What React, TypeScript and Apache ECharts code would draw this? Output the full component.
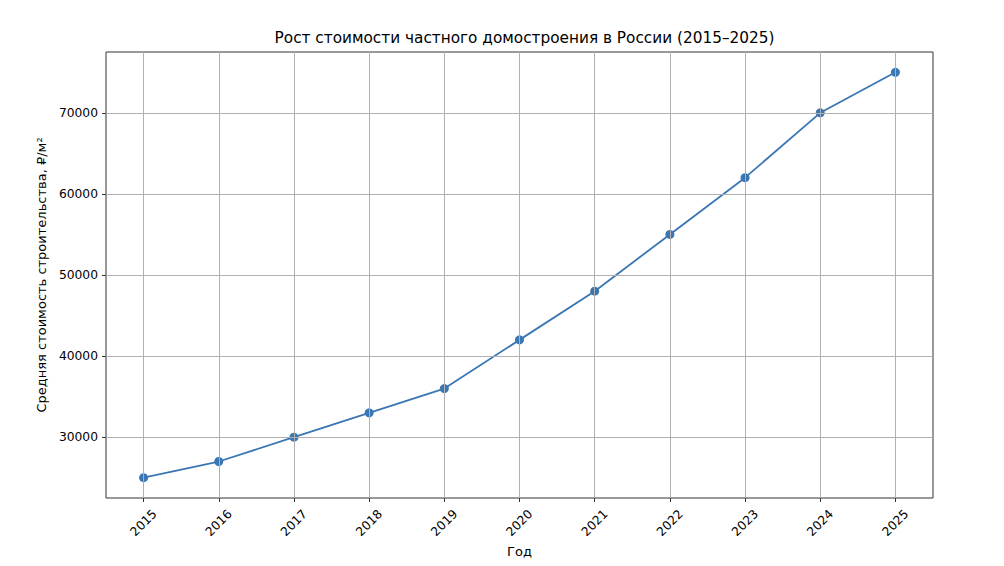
import React, { useEffect, useRef } from "react";
import * as echarts from "echarts";

const years = [2015, 2016, 2017, 2018, 2019, 2020, 2021, 2022, 2023, 2024, 2025];
const costs = [25000, 27000, 30000, 33000, 36000, 42000, 48000, 55000, 62000, 70000, 75000];
const yTicks = [30000, 40000, 50000, 60000, 70000];

const FONT = "DejaVu Sans";
const LINE_COLOR = "#3a76b3";

export default function App() {
  const ref = useRef<HTMLDivElement>(null);
  useEffect(() => {
    if (!ref.current) return;
    const chart = echarts.init(ref.current, undefined, { renderer: "svg" });
    const gridLines = [
      ...years.map((y) => ({ xAxis: y })),
      ...yTicks.map((v) => ({ yAxis: v })),
    ];
    chart.setOption({
      animation: false,
      backgroundColor: "#ffffff",
      textStyle: { fontFamily: FONT },
      title: {
        text: "Рост стоимости частного домостроения в России (2015–2025)",
        left: 519.5,
        textAlign: "center",
        top: 25,
        textStyle: { fontFamily: FONT, fontSize: 15.3, fontWeight: "normal", color: "#000" },
      },
      grid: {
        left: 106,
        right: 71,
        top: 52,
        bottom: 68,
        show: true,
        borderColor: "#333",
        borderWidth: 1,
        backgroundColor: "transparent",
      },
      xAxis: {
        type: "value",
        min: 2014.5,
        max: 2025.5,
        name: "Год",
        nameLocation: "middle",
        nameGap: 47,
        nameTextStyle: { fontFamily: FONT, fontSize: 13, color: "#000" },
        axisLine: { show: false },
        axisTick: { show: true, length: 4, customValues: years, lineStyle: { color: "#333" } },
        axisLabel: {
          customValues: years,
          rotate: 45,
          align: "center",
          verticalAlign: "middle",
          margin: 25,
          fontFamily: FONT,
          fontSize: 12.3,
          color: "#000",
          formatter: (v: number) => String(v),
        },
        splitLine: { show: false },
      },
      yAxis: {
        type: "value",
        min: 22500,
        max: 77500,
        name: "Средняя стоимость строительства, ₽/м²",
        nameLocation: "middle",
        nameGap: 50,
        nameTextStyle: { fontFamily: FONT, fontSize: 13, color: "#000" },
        axisLine: { show: false },
        axisTick: { show: true, length: 4, customValues: yTicks, lineStyle: { color: "#333" } },
        axisLabel: {
          customValues: yTicks,
          margin: 8,
          fontFamily: FONT,
          fontSize: 12.3,
          color: "#000",
          formatter: (v: number) => String(v),
        },
        splitLine: { show: false },
      },
      series: [
        {
          type: "line",
          z: 1,
          silent: true,
          data: years.map((y, i) => [y, costs[i]]),
          showSymbol: false,
          lineStyle: { opacity: 0 },
          markLine: {
            silent: true,
            symbol: ["none", "none"],
            label: { show: false },
            lineStyle: { color: "#b0b0b0", width: 1, type: "solid" },
            data: gridLines,
          },
        },
        {
          type: "line",
          z: 3,
          data: years.map((y, i) => [y, costs[i]]),
          symbol: "circle",
          symbolSize: 9,
          showSymbol: true,
          itemStyle: { color: LINE_COLOR },
          lineStyle: { color: LINE_COLOR, width: 1.8 },
        },
      ],
    });
    return () => chart.dispose();
  }, []);
  return <div ref={ref} style={{ width: 1004, height: 566, margin: -8 }} />;
}
